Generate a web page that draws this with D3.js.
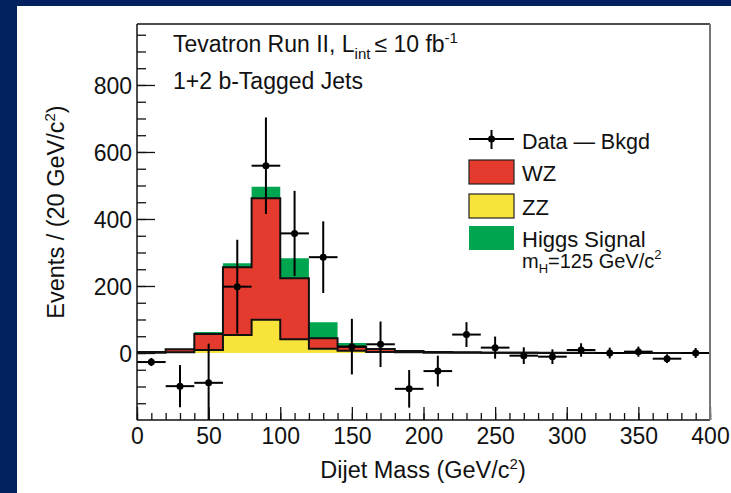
<!DOCTYPE html>
<html lang="en">
	<head>
		<meta charset="utf-8">
		<title>Dijet Mass</title>
		<script type="text/javascript" src="https://cdn.jsdelivr.net/npm/d3@7"></script>
		<style type="text/css">
			body { margin: 0; background: #01215f; }
			text { font-family: "Liberation Sans", Arial, Helvetica, sans-serif; fill: #111; }
		</style>
	</head>
	<body>
		<script type="text/javascript">

			//Width and height
			var w = 731;
			var h = 493;

			//bin centers (GeV/c^2), 20 GeV wide
			var binCenters = [10, 30, 50, 70, 90, 110, 130, 150, 170, 190, 210, 230, 250, 270, 290, 310, 330, 350, 370, 390];

			//stacked backgrounds / signal per bin
			var zz    = [1, 2, 9, 54, 99, 41, 13, 7, 3, 2, 1, 1, 0.5, 0.5, 0, 0, 0, 0, 0, 0];
			var wz    = [2, 9, 48, 202, 363, 182, 31, 12, 9, 4, 2, 1, 0.5, 0.5, 0.5, 0.5, 0, 0, 0, 0];
			var higgs = [0, 1, 6, 12, 34, 60, 48, 11, 2, 1, 0, 0, 0, 0, 0, 0, 0, 0, 0, 0];

			//data minus background, with errors
			var dataVal = [-27, -99, -89, 198, 559, 357, 286, 19, 26, -107, -54, 55, 16, -8, -11, 9, 0, 4, -17, 0];
			var dataErr = [12, 63, 117, 140, 144, 127, 107, 83, 68, 56, 46, 37, 33, 25, 22, 20, 16, 15, 13, 15];

			//tick labels
			var xTicks = [0, 50, 100, 150, 200, 250, 300, 350, 400];
			var yTicks = [0, 200, 400, 600, 800];

			var binW = 20;

			//Create SVG element
			var svg = d3.select("body")
						.append("svg")
						.attr("width", w)
						.attr("height", h);

			//white panel on navy
			svg.append("rect")
			   .attr("x", 17)
			   .attr("y", 6)
			   .attr("width", w - 17)
			   .attr("height", h - 6)
			   .attr("fill", "white");

			//scales
			var x = d3.scaleLinear().domain([0, 400]).range([137, 710]);
			var y = d3.scaleLinear().domain([-200, 982]).range([420, 24]);

			svg.append("clipPath")
			   .attr("id", "plotclip")
			   .append("rect")
			   .attr("x", 137).attr("y", 24)
			   .attr("width", 573).attr("height", 396);

			var plot = svg.append("g").attr("clip-path", "url(#plotclip)");

			//cumulative stack
			var stackZZ = zz.map(function(d){ return d; });
			var stackWZ = zz.map(function(d, i){ return d + wz[i]; });
			var stackH  = zz.map(function(d, i){ return d + wz[i] + higgs[i]; });

			//step outline from bin values, closed down to 0
			function stepPath(vals) {
				var pts = [[x(0), y(0)]];
				vals.forEach(function(v, i){
					var lo = binCenters[i] - binW / 2;
					var hi = binCenters[i] + binW / 2;
					pts.push([x(lo), y(v)]);
					pts.push([x(hi), y(v)]);
				});
				pts.push([x(400), y(0)]);
				return d3.line()(pts);
			}

			plot.append("path")
				.attr("d", stepPath(stackH))
				.attr("fill", "#00a54f")
				.attr("stroke", "none");

			plot.append("path")
				.attr("d", stepPath(stackWZ))
				.attr("fill", "#e53b2f")
				.attr("stroke", "#111")
				.attr("stroke-width", 2);

			plot.append("path")
				.attr("d", stepPath(stackZZ))
				.attr("fill", "#f8e33b")
				.attr("stroke", "#111")
				.attr("stroke-width", 2);

			//data points with error bars
			var pts = plot.selectAll(".pt")
				.data(binCenters)
				.enter()
				.append("g")
				.attr("class", "pt");

			pts.append("line")
			   .attr("x1", function(d){ return x(d - binW / 2); })
			   .attr("x2", function(d){ return x(d + binW / 2); })
			   .attr("y1", function(d, i){ return y(dataVal[i]); })
			   .attr("y2", function(d, i){ return y(dataVal[i]); })
			   .attr("stroke", "#000")
			   .attr("stroke-width", 2);

			pts.append("line")
			   .attr("x1", function(d){ return x(d); })
			   .attr("x2", function(d){ return x(d); })
			   .attr("y1", function(d, i){ return y(dataVal[i] + dataErr[i]); })
			   .attr("y2", function(d, i){ return y(dataVal[i] - dataErr[i]); })
			   .attr("stroke", "#000")
			   .attr("stroke-width", 2);

			pts.append("circle")
			   .attr("cx", function(d){ return x(d); })
			   .attr("cy", function(d, i){ return y(dataVal[i]); })
			   .attr("r", 3.5)
			   .attr("fill", "#000");

			//axes
			var xAxisMinor = d3.axisBottom(x).tickValues(d3.range(0, 401, 10)).tickFormat("");
			var xAxisMajor = d3.axisBottom(x).tickValues(xTicks).tickFormat(d3.format("d"));
			var yAxisMinor = d3.axisLeft(y).tickValues(d3.range(-150, 951, 50)).tickFormat("");
			var yAxisMajor = d3.axisLeft(y).tickValues(yTicks).tickFormat(d3.format("d"));

			//ticks point into the plot
			svg.append("g")
			   .attr("transform", "translate(0,420)")
			   .call(xAxisMinor.tickSize(-7));
			svg.append("g")
			   .attr("class", "xmaj")
			   .attr("transform", "translate(0,420)")
			   .call(xAxisMajor.tickSize(-13));
			svg.append("g")
			   .attr("transform", "translate(137,0)")
			   .call(yAxisMinor.tickSize(-9));
			svg.append("g")
			   .attr("class", "ymaj")
			   .attr("transform", "translate(137,0)")
			   .call(yAxisMajor.tickSize(-18).tickPadding(5));

			svg.selectAll(".tick line").attr("stroke", "#111").attr("stroke-width", 1.3);
			svg.selectAll(".domain").remove();
			svg.selectAll(".tick text")
			   .attr("font-size", "23px")
			   .attr("font-family", "Liberation Sans, Arial, sans-serif")
			   .attr("fill", "#111");
			svg.selectAll(".xmaj .tick text").attr("dy", "0").attr("y", 24);
			svg.selectAll(".ymaj .tick text").attr("dy", "0.36em");

			//frame
			svg.append("line").attr("x1", 137).attr("x2", 137).attr("y1", 24).attr("y2", 420)
			   .attr("stroke", "#111").attr("stroke-width", 1.5);
			svg.append("line").attr("x1", 137).attr("x2", 710).attr("y1", 420).attr("y2", 420)
			   .attr("stroke", "#111").attr("stroke-width", 1.5);
			svg.append("line").attr("x1", 137).attr("x2", 710).attr("y1", 24).attr("y2", 24)
			   .attr("stroke", "#111").attr("stroke-width", 1.5);
			svg.append("line").attr("x1", 710).attr("x2", 710).attr("y1", 24).attr("y2", 420)
			   .attr("stroke", "#777").attr("stroke-width", 2);

			//axis titles
			var xt = svg.append("text")
			   .attr("x", 423)
			   .attr("y", 478)
			   .attr("text-anchor", "middle")
			   .attr("font-size", "23.5px");
			xt.append("tspan").text("Dijet Mass (GeV/c");
			xt.append("tspan").attr("dy", -9).attr("font-size", "15px").text("2");
			xt.append("tspan").attr("dy", 9).text(")");

			var yt = svg.append("text")
			   .attr("transform", "translate(64,212) rotate(-90)")
			   .attr("text-anchor", "middle")
			   .attr("font-size", "23.5px");
			yt.append("tspan").text("Events / (20 GeV/c");
			yt.append("tspan").attr("dy", -9).attr("font-size", "15px").text("2");
			yt.append("tspan").attr("dy", 9).text(")");

			//page title
			var t1 = svg.append("text")
			   .attr("x", 173)
			   .attr("y", 52)
			   .attr("font-size", "23px");
			t1.append("tspan").text("Tevatron Run II, L");
			t1.append("tspan").attr("dy", 7).attr("font-size", "15px").text("int");
			t1.append("tspan").attr("dy", -7).attr("dx", 4).text("\u2264 10 fb");
			t1.append("tspan").attr("dy", -9).attr("font-size", "15px").text("-1");

			svg.append("text")
			   .attr("x", 173)
			   .attr("y", 89)
			   .attr("font-size", "23px")
			   .text("1+2 b-Tagged Jets");

			//legend
			var lx = 469, lw = 45, lh = 24, tx = 522;

			svg.append("line").attr("x1", lx).attr("x2", lx + lw).attr("y1", 139).attr("y2", 139)
			   .attr("stroke", "#000").attr("stroke-width", 2);
			svg.append("line").attr("x1", lx + lw / 2).attr("x2", lx + lw / 2).attr("y1", 130).attr("y2", 149)
			   .attr("stroke", "#000").attr("stroke-width", 2);
			svg.append("circle").attr("cx", lx + lw / 2).attr("cy", 139).attr("r", 3.5).attr("fill", "#000");
			svg.append("text").attr("x", tx).attr("y", 149).attr("font-size", "21.5px").text("Data \u2014 Bkgd");

			var boxes = [
				{y: 160, fill: "#e53b2f", stroke: "#222", label: "WZ"},
				{y: 194, fill: "#f8e33b", stroke: "#222", label: "ZZ"},
				{y: 226, fill: "#00a54f", stroke: "none", label: "Higgs Signal"}
			];

			boxes.forEach(function(b){
				svg.append("rect")
				   .attr("x", lx).attr("y", b.y)
				   .attr("width", lw).attr("height", lh)
				   .attr("fill", b.fill)
				   .attr("stroke", b.stroke)
				   .attr("stroke-width", 1.2);
				svg.append("text")
				   .attr("x", tx).attr("y", b.y + 21)
				   .attr("font-size", "22px")
				   .text(b.label);
			});

			var mh = svg.append("text")
			   .attr("x", tx)
			   .attr("y", 268)
			   .attr("font-size", "20px");
			mh.append("tspan").text("m");
			mh.append("tspan").attr("dy", 5).attr("font-size", "13px").text("H");
			mh.append("tspan").attr("dy", -5).text("=125 GeV/c");
			mh.append("tspan").attr("dy", -9).attr("font-size", "13px").text("2");

		</script>
	</body>
</html>
